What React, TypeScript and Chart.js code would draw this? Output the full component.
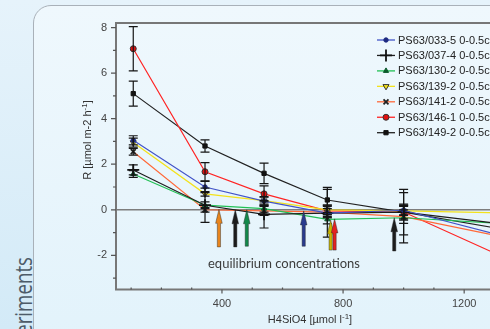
import React, { useEffect, useRef } from 'react';
import { Chart, registerables } from 'chart.js';
import { drawPoint } from 'chart.js/helpers';

Chart.register(...registerables);

// ---- data ----
const xValues = [107, 344, 539, 748, 1000, 1400];
const seriesLabels = [
  'PS63/033-5 0-0.5cm',
  'PS63/037-4 0-0.5cm',
  'PS63/130-2 0-0.5cm',
  'PS63/139-2 0-0.5cm',
  'PS63/141-2 0-0.5cm',
  'PS63/146-1 0-0.5cm',
  'PS63/149-2 0-0.5cm',
];
const s0335 = [3.05, 1.0, 0.38, -0.15, -0.02, -1.4];
const s0374 = [1.75, 0.2, -0.2, -0.15, -0.1, -0.74];
const s1302 = [1.57, 0.2, 0.05, -0.42, -0.35, -0.66];
const s1392 = [2.95, 0.7, 0.4, 0.0, -0.05, -0.16];
const s1412 = [2.55, 0.0, -0.05, -0.1, -0.3, -1.39];
const s1461 = [7.07, 1.67, 0.7, -0.05, -0.1, -2.5];
const s1492 = [5.1, 2.8, 1.6, 0.43, -0.1, -1.02];

const e0335 = [0.2, 0.25, 0.2, 0.2, 0.2, 0];
const e0374 = [0.22, 0.75, 0.6, 1.05, 1.0, 0];
const e1302 = [0.15, 0.15, 0.15, 0.2, 1.1, 0];
const e1392 = [0.2, 0.1, 0.15, 0.2, 0.2, 0];
const e1412 = [0.15, 0.1, 0.2, 0.25, 0.3, 0];
const e1461 = [0.97, 0.4, 0.35, 0.25, 0.35, 0];
const e1492 = [0.55, 0.27, 0.45, 0.55, 0.3, 0];

// equilibrium concentrations (arrows)
const eqX = [390, 444, 482, 670, 759, 772, 969];
const eqTop = [0.02, 0.0, 0.0, -0.05, -0.45, -0.4, -0.35];
const eqBottom = [-1.63, -1.63, -1.6, -1.6, -1.77, -1.77, -1.81];
const eqColors = ['#e8841c', '#1c1c1c', '#12884a', '#2a3b8e', '#c9b400', '#e42222', '#1c1c1c'];

const xTickValues = [100, 200, 300, 400, 500, 600, 700, 800, 900, 1000, 1100, 1200, 1300, 1400];
const xTickLabels = [400, 800, 1200];
const yTickValues = [-3, -2, -1, 0, 1, 2, 3, 4, 5, 6, 7, 8];
const yTickLabels = [-2, 0, 2, 4, 6, 8];

const seriesValues = [s0335, s0374, s1302, s1392, s1412, s1461, s1492];
const seriesErrors = [e0335, e0374, e1302, e1392, e1412, e1461, e1492];

const styles = [
  { line: '#4355c8', pointStyle: 'circle', radius: 2.2, bg: '#1d2a80', border: '#1d2a80', bw: 1, rot: 0 },
  { line: '#1e1e1e', pointStyle: 'cross', radius: 6, bg: '#111', border: '#111', bw: 1.8, rot: 0 },
  { line: '#22c055', pointStyle: 'triangle', radius: 3, bg: '#0b5a2b', border: '#0b5a2b', bw: 1, rot: 0 },
  { line: '#f3e21c', pointStyle: 'triangle', radius: 3.5, bg: '#f3e21c', border: '#333', bw: 1, rot: 180 },
  { line: '#ff6a3a', pointStyle: 'crossRot', radius: 3.5, bg: '#222', border: '#222', bw: 1.8, rot: 0 },
  { line: '#ff2424', pointStyle: 'circle', radius: 3, bg: '#e01010', border: '#333', bw: 1, rot: 0 },
  { line: '#222222', pointStyle: 'rect', radius: 3, bg: '#111', border: '#111', bw: 1, rot: 0 },
];

const FONT = '"Liberation Sans", Arial, sans-serif';

function drawSupText(ctx: CanvasRenderingContext2D, parts: [string, boolean][], cx: number, cy: number, size: number) {
  const normal = `${size}px ${FONT}`;
  const small = `${Math.round(size * 0.75)}px ${FONT}`;
  let total = 0;
  for (const [t, sup] of parts) {
    ctx.font = sup ? small : normal;
    total += ctx.measureText(t).width;
  }
  let x = cx - total / 2;
  ctx.textAlign = 'left';
  ctx.textBaseline = 'alphabetic';
  for (const [t, sup] of parts) {
    ctx.font = sup ? small : normal;
    ctx.fillText(t, x, sup ? cy - size * 0.38 : cy);
    x += ctx.measureText(t).width;
  }
}

const decor = {
  id: 'decor',
  beforeDatasetsDraw(chart: any) {
    const { ctx, chartArea: a, scales } = chart;
    const y = scales.y;
    ctx.save();
    const y0 = y.getPixelForValue(0);
    ctx.strokeStyle = '#7d7d7d';
    ctx.lineWidth = 1.6;
    ctx.beginPath();
    ctx.moveTo(a.left, y0);
    ctx.lineTo(a.right, y0);
    ctx.stroke();
    ctx.restore();
  },
  afterDatasetsDraw(chart: any) {
    const { ctx, chartArea: a, scales } = chart;
    const x = scales.x;
    const y = scales.y;
    ctx.save();

    // error bars
    ctx.strokeStyle = '#151515';
    ctx.lineWidth = 1.2;
    seriesValues.forEach((vals, i) => {
      vals.forEach((v, j) => {
        const e = seriesErrors[i][j];
        if (!e) return;
        const px = x.getPixelForValue(xValues[j]);
        const t = y.getPixelForValue(v + e);
        const b = y.getPixelForValue(v - e);
        ctx.beginPath();
        ctx.moveTo(px, t);
        ctx.lineTo(px, b);
        ctx.moveTo(px - 4.5, t);
        ctx.lineTo(px + 4.5, t);
        ctx.moveTo(px - 4.5, b);
        ctx.lineTo(px + 4.5, b);
        ctx.stroke();
      });
    });

    // arrows
    eqX.forEach((ex, i) => {
      const px = x.getPixelForValue(ex);
      const top = y.getPixelForValue(eqTop[i]);
      const bot = y.getPixelForValue(eqBottom[i]);
      const hl = 14;
      ctx.beginPath();
      ctx.moveTo(px, top);
      ctx.lineTo(px + 3.3, top + hl);
      ctx.lineTo(px + 1.6, top + hl);
      ctx.lineTo(px + 1.6, bot);
      ctx.lineTo(px - 1.6, bot);
      ctx.lineTo(px - 1.6, top + hl);
      ctx.lineTo(px - 3.3, top + hl);
      ctx.closePath();
      ctx.fillStyle = eqColors[i];
      ctx.fill();
      ctx.strokeStyle = 'rgba(40,40,40,0.55)';
      ctx.lineWidth = 0.8;
      ctx.stroke();
    });

    // frame
    ctx.strokeStyle = '#777';
    ctx.lineWidth = 2;
    ctx.beginPath();
    ctx.moveTo(a.right, a.top);
    ctx.lineTo(a.left, a.top);
    ctx.lineTo(a.left, a.bottom);
    ctx.lineTo(a.right, a.bottom);
    ctx.stroke();

    // tick marks
    ctx.lineWidth = 1.2;
    ctx.strokeStyle = '#555';
    ctx.beginPath();
    yTickValues.forEach((v) => {
      const py = y.getPixelForValue(v);
      const len = yTickLabels.includes(v) ? 5 : 3;
      ctx.moveTo(a.left - len, py);
      ctx.lineTo(a.left, py);
    });
    xTickValues.forEach((v) => {
      const px = x.getPixelForValue(v);
      if (xTickLabels.includes(v)) {
        ctx.moveTo(px, a.bottom);
        ctx.lineTo(px, a.bottom + 4);
      } else {
        ctx.moveTo(px, a.bottom);
        ctx.lineTo(px, a.bottom - 2);
      }
    });
    ctx.stroke();

    // legend
    const lx = 377;
    let ly = 40;
    seriesLabels.forEach((lab, i) => {
      const st = styles[i];
      ctx.strokeStyle = st.line;
      ctx.lineWidth = 1.3;
      ctx.beginPath();
      ctx.moveTo(lx, ly);
      ctx.lineTo(lx + 18, ly);
      ctx.stroke();
      ctx.fillStyle = st.bg;
      ctx.strokeStyle = st.border;
      ctx.lineWidth = st.bw;
      drawPoint(ctx, { pointStyle: st.pointStyle, rotation: st.rot, radius: st.radius, borderWidth: st.bw } as any, lx + 9, ly);
      ctx.fillStyle = '#222';
      ctx.font = `11px ${FONT}`;
      ctx.textAlign = 'left';
      ctx.textBaseline = 'middle';
      ctx.fillText(lab, lx + 21, ly + 0.5);
      ly += 15.45;
    });

    // axis titles
    ctx.fillStyle = '#333';
    drawSupText(ctx, [['H4SiO4 [µmol l', false], ['-1', true], [']', false]], 310, 323, 11);
    ctx.save();
    ctx.translate(91, 140);
    ctx.rotate(-Math.PI / 2);
    drawSupText(ctx, [['R [µmol m-2 h', false], ['-1', true], [']', false]], 0, 0, 11);
    ctx.restore();

    // equilibrium text
    ctx.font = '14px Lato, "Open Sans", sans-serif';
    const txt = 'equilibrium concentrations';
    const w = ctx.measureText(txt).width;
    ctx.save();
    ctx.translate(284, 267.5);
    ctx.scale(152 / w, 1);
    ctx.fillStyle = '#3c3c3c';
    ctx.textAlign = 'center';
    ctx.textBaseline = 'alphabetic';
    ctx.fillText(txt, 0, 0);
    ctx.restore();

    ctx.restore();
  },
};

export default function App() {
  const ref = useRef<HTMLCanvasElement>(null);
  useEffect(() => {
    if (!ref.current) return;
    const datasets = seriesLabels.map((lab, i) => ({
      label: lab,
      data: xValues.map((xv, j) => ({ x: xv, y: seriesValues[i][j] })),
      borderColor: styles[i].line,
      borderWidth: 1.2,
      pointStyle: styles[i].pointStyle as any,
      pointRadius: styles[i].radius,
      pointRotation: styles[i].rot,
      pointBackgroundColor: styles[i].bg,
      pointBorderColor: styles[i].border,
      pointBorderWidth: styles[i].bw,
      tension: 0,
      fill: false,
    }));
    const chart = new Chart(ref.current, {
      type: 'line',
      data: { datasets },
      options: {
        animation: false,
        responsive: false,
        devicePixelRatio: 1,
        layout: { padding: { left: 0, top: 23, right: 45, bottom: 0 } },
        plugins: { legend: { display: false }, tooltip: { enabled: false } },
        scales: {
          x: {
            type: 'linear',
            min: 50,
            max: 1500,
            afterFit: (s: any) => { s.height = 39.5; },
            afterBuildTicks: (s: any) => { s.ticks = xTickValues.map((v) => ({ value: v })); },
            grid: { display: false, drawTicks: false },
            border: { display: false },
            ticks: {
              autoSkip: false,
              maxRotation: 0,
              padding: 8,
              color: '#444',
              font: { size: 11, family: FONT },
              callback: (v: any) => (xTickLabels.includes(Number(v)) ? String(v) : ''),
            },
          },
          y: {
            min: -3.5,
            max: 8.2,
            afterFit: (s: any) => { s.width = 116; },
            afterBuildTicks: (s: any) => { s.ticks = yTickValues.map((v) => ({ value: v })); },
            grid: { display: false, drawTicks: false },
            border: { display: false },
            ticks: {
              autoSkip: false,
              padding: 9,
              color: '#444',
              font: { size: 11, family: FONT },
              callback: (v: any) => (yTickLabels.includes(Number(v)) ? String(v) : ''),
            },
          },
        },
      },
      plugins: [decor],
    });
    return () => chart.destroy();
  }, []);

  return (
    <div
      style={{
        position: 'fixed',
        left: 0,
        top: 0,
        width: 490,
        height: 329,
        overflow: 'hidden',
        background: 'linear-gradient(to bottom, #e6f3fb, #d3eaf7)',
      }}
    >
      <div
        style={{
          position: 'absolute',
          left: 33,
          top: 5,
          width: 700,
          height: 500,
          boxSizing: 'border-box',
          border: '1.5px solid #a9b1b9',
          borderRadius: 18,
          background: 'linear-gradient(to bottom, #eff8fd, #dcf0fa)',
        }}
      />
      <div
        style={{
          position: 'absolute',
          left: 11,
          top: 413,
          width: 200,
          textAlign: 'right',
          whiteSpace: 'nowrap',
          transformOrigin: 'left top',
          transform: 'rotate(-90deg) scaleX(0.78)',
          fontFamily: '"Open Sans", sans-serif',
          fontSize: 24,
          lineHeight: '24px',
          color: '#4d5b68',
        }}
      >
        Experiments
      </div>
      <canvas
        ref={ref}
        width={600}
        height={329}
        style={{ position: 'absolute', left: 0, top: 0, width: 600, height: 329 }}
      />
    </div>
  );
}
